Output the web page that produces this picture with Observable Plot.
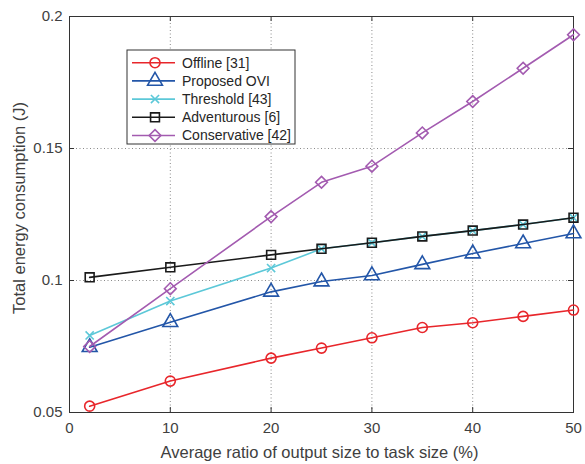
<!DOCTYPE html>
<html>
<head>
<meta charset="utf-8">
<script src="https://cdn.jsdelivr.net/npm/d3@7"></script>
<script src="https://cdn.jsdelivr.net/npm/@observablehq/plot@0.6"></script>
<style>
  html, body { margin: 0; padding: 0; background: #fff; }
  #chart { position: relative; width: 585px; height: 464px; }
</style>
</head>
<body>
<div id="chart"></div>
<script>
const xValues = [2, 10, 20, 25, 30, 35, 40, 45, 50];
const offline      = [0.0524, 0.0619, 0.0706, 0.0744, 0.0783, 0.0822, 0.0840, 0.0864, 0.0888];
const proposed     = [0.0747, 0.0842, 0.0957, 0.0996, 0.1019, 0.1061, 0.1102, 0.1140, 0.1178];
const threshold    = [0.0792, 0.0922, 0.1047, 0.1120, 0.1143, 0.1167, 0.1189, 0.1212, 0.1238];
const adventurous  = [0.1012, 0.1050, 0.1097, 0.1120, 0.1143, 0.1167, 0.1189, 0.1212, 0.1238];
const conservative = [0.0750, 0.0969, 0.1242, 0.1372, 0.1433, 0.1559, 0.1678, 0.1804, 0.1931];

const seriesNames   = ["Offline [31]", "Proposed OVI", "Threshold [43]", "Adventurous [6]", "Conservative [42]"];
const seriesColors  = ["#e8262b", "#2356a8", "#5cc8d8", "#1a1a1a", "#a35bb0"];
const seriesSymbols = ["circle", "triangle", "times", "square", "diamond2"];
const seriesSizes   = [5, 5.5, 3.8, 5, 5.3];
const seriesValues  = [offline, proposed, threshold, adventurous, conservative];

const xTicks = [0, 10, 20, 30, 40, 50];
const yTicks = [0.05, 0.1, 0.15, 0.2];
const xGrid = [10, 20, 30, 40];
const yGrid = [0.1, 0.15];
const xLabel = "Average ratio of output size to task size (%)";
const yLabel = "Total energy consumption (J)";

const rows = [];
seriesNames.forEach((name, i) => {
  xValues.forEach((x, j) => rows.push({series: name, idx: i, x, y: seriesValues[i][j]}));
});

const font = "Liberation Sans, Arial, Helvetica, sans-serif";
const tickLenX = 0.5, tickLenY = 0.0019;

const marks = [
  Plot.ruleX(xGrid, {stroke: "#8a8a8a", strokeDasharray: "1,2.5", strokeWidth: 1}),
  Plot.ruleY(yGrid, {stroke: "#8a8a8a", strokeDasharray: "1,2.5", strokeWidth: 1}),
  Plot.ruleX(xTicks, {y1: 0.05, y2: 0.05 + tickLenY, stroke: "#333"}),
  Plot.ruleX(xTicks, {y1: 0.2, y2: 0.2 - tickLenY, stroke: "#333"}),
  Plot.ruleY(yTicks, {x1: 0, x2: tickLenX, stroke: "#333"}),
  Plot.ruleY(yTicks, {x1: 50, x2: 50 - tickLenX, stroke: "#333"}),
  Plot.frame({stroke: "#333", strokeWidth: 1}),
  Plot.axisX({ticks: xTicks, tickSize: 0, tickPadding: 10, tickFormat: d3.format("d"), label: null, fontSize: 15}),
  Plot.axisY({ticks: yTicks, tickSize: 0, tickPadding: 7, tickFormat: d => String(d), label: null, fontSize: 15})
];
seriesNames.forEach((name, i) => {
  const data = rows.filter(d => d.idx === i);
  marks.push(Plot.line(data, {x: "x", y: "y", stroke: seriesColors[i], strokeWidth: 1.6}));
  marks.push(Plot.dot(data, {x: "x", y: "y", symbol: () => seriesSymbols[i], stroke: seriesColors[i], fill: "none", strokeWidth: 1.6, r: seriesSizes[i]}));
});

const plot = Plot.plot({
  width: 585,
  height: 464,
  marginLeft: 69,
  marginRight: 12,
  marginTop: 16,
  marginBottom: 52,
  style: {fontFamily: font, fontSize: "15px", color: "#404040", background: "#fff"},
  x: {domain: [0, 50]},
  y: {domain: [0.05, 0.2]},
  symbol: {type: "identity"},
  marks
});
document.getElementById("chart").appendChild(plot);

const svg = d3.select(plot);

// Axis titles
svg.append("text").attr("x", 319.5).attr("y", 458).attr("text-anchor", "middle")
  .attr("font-family", font).attr("font-size", 16.5).attr("fill", "#404040").text(xLabel);
svg.append("text").attr("transform", "translate(25,208) rotate(-90)").attr("text-anchor", "middle")
  .attr("font-family", font).attr("font-size", 16.5).attr("fill", "#404040").text(yLabel);

// Legend inside the plot (MATLAB-style box)
const lx = 127, ly = 50, lw = 168, lh = 94, rowH = 18.2;
const lg = svg.append("g").attr("font-family", font).attr("font-size", 14).attr("text-anchor", "start");
lg.append("rect").attr("x", lx).attr("y", ly).attr("width", lw).attr("height", lh)
  .attr("fill", "#fff").attr("stroke", "#333").attr("stroke-width", 1);
const symMap = {circle: d3.symbolCircle, triangle: d3.symbolTriangle, times: d3.symbolTimes, square: d3.symbolSquare, diamond2: d3.symbolDiamond2};
seriesNames.forEach((name, i) => {
  const cy = ly + 12.7 + i * rowH;
  lg.append("line").attr("x1", lx + 5).attr("x2", lx + 48).attr("y1", cy).attr("y2", cy)
    .attr("stroke", seriesColors[i]).attr("stroke-width", 1.6);
  lg.append("path").attr("transform", `translate(${lx + 28},${cy})`)
    .attr("d", d3.symbol(symMap[seriesSymbols[i]], Math.PI * seriesSizes[i] * seriesSizes[i])())
    .attr("fill", "none").attr("stroke", seriesColors[i]).attr("stroke-width", 1.6);
  lg.append("text").attr("x", lx + 55).attr("y", cy).attr("dy", "0.35em").attr("text-anchor", "start")
    .attr("fill", "#262626").text(name);
});
</script>
</body>
</html>
